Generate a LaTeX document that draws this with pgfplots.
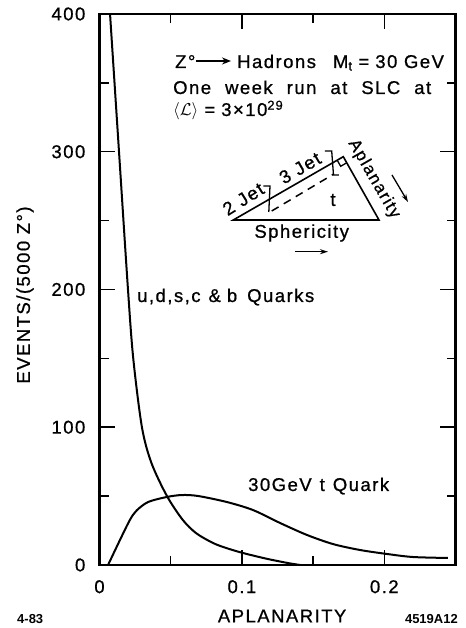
\documentclass[border=0pt]{standalone}
\usepackage{fontspec}
\setmainfont[LetterSpace=8, FakeBold=0.8]{Liberation Sans}
\newfontfamily\tagfont{Liberation Sans}
\usepackage{pgfplots}
\pgfplotsset{compat=1.18}
\usetikzlibrary{arrows.meta}

% event distributions versus aplanarity
\pgfplotstableread{
x       y
0.0074  400
0.0137  300
0.0200  200
0.0237  150
0.0298  100
0.0365  74
0.0474  50
0.0585  32.7
0.0680  23
0.0797  16
0.0885  12.5
0.1008  8.7
0.1180  4.4
0.1330  1.3
0.1410  0
}\lightq
\pgfplotstableread{
x       y
0.0060  0
0.0156  20.8
0.0215  33
0.0260  39.5
0.0341  45.7
0.0474  49.4
0.0580  50.8
0.0692  50.1
0.0895  45.7
0.1078  39.9
0.1268  30.5
0.1457  21.8
0.1640  15.2
0.1829  10.9
0.2019  8.0
0.2201  5.8
0.2447  5.1
}\topq

\newcommand\ws{\hspace{14bp}}

\begin{document}
\fontsize{18.5bp}{22bp}\selectfont
\begin{tikzpicture}
\path[use as bounding box] (-99.5bp,-63bp) rectangle (366.5bp,565bp);
\begin{axis}[
  at={(0,0)}, anchor=south west,
  width=356bp, height=551bp, scale only axis,
  xmin=0, xmax=0.25, ymin=0, ymax=400,
  axis line style={line width=2.4bp},
  xtick={0,0.1,0.2}, xticklabels={0,0.1,0.2},
  ytick={0,100,200,300,400},
  minor x tick num=1, minor y tick num=1,
  tick align=inside,
  major tick length=15bp, minor tick length=9bp,
  every tick/.style={black, line width=1.5bp},
  /pgf/number format/assume math mode=true,
  xticklabel style={inner sep=0pt, anchor=north, yshift=-15bp},
  yticklabel style={inner sep=0pt, anchor=east, xshift=-14bp},
  xlabel={APLANARITY},
  ylabel={EVENTS/(5000 Z°)},
  xlabel style={at={(axis description cs:0.513,-0.0926)}, anchor=center, inner sep=0pt},
  ylabel style={at={(axis description cs:-0.209,0.49)}, anchor=center, inner sep=0pt},
]
\addplot[black, line width=2bp, smooth, tension=0.5] table[x=x,y=y] {\lightq};
\addplot[black, line width=2bp, smooth, tension=0.5] table[x=x,y=y] {\topq};
\end{axis}

% annotations, placed in page units measured from the top left corner
\begin{scope}[x=1bp, y=-1bp, shift={(-99.5bp,565bp)}]
  \node[anchor=base west, inner sep=0] at (175,68) {Z°};
  \draw[line width=1.6bp, -{Stealth[length=9bp,width=7bp]}] (196,61) -- (231,61);
  \node[anchor=base west, inner sep=0] at (237,68) {Hadrons\hspace{17bp}M\textsubscript{t}\hspace{6bp}=\hspace{6bp}30 GeV};
  \node[anchor=base west, inner sep=0] at (173,94) {One\ws week\ws run\ws at\ws SLC\ws at};
  \node[anchor=base west, inner sep=0] at (173,116) {$\langle\mathcal{L}\rangle$\hspace{6bp}=\hspace{6bp}3×10\textsuperscript{29}};

  \node[anchor=base west, inner sep=0] at (137,302) {u,d,s,c\hspace{8bp}\&\hspace{6bp}b\hspace{10bp}Quarks};
  \node[anchor=base west, inner sep=0] at (248,491) {30GeV\hspace{8bp}t\hspace{8bp}Quark};

  % sphericity / aplanarity triangle
  \draw[line width=1.6bp] (233.3,220) -- (343.3,156.7) -- (379,220) -- cycle;
  \draw[line width=1.5bp, dash pattern=on 8bp off 6bp] (271.7,211) -- (333.3,174.3);
  \draw[line width=1.3bp] (263.5,186) -- (270,186) -- (268.8,212);
  \draw[line width=1.3bp] (325,151) -- (331.7,151) -- (333.5,175) -- (339,175);
  \draw[line width=1.3bp] (337.2,160.2) -- (340.7,166.3) -- (346.7,162.8);
  \node[rotate=32, inner sep=0] at (243.3,199) {2 Jet};
  \node[rotate=30, inner sep=0] at (300,168) {3 Jet};
  \node[inner sep=0] at (333,200) {t};
  \node[rotate=-60, inner sep=0, font=\fontsize{17bp}{20bp}\selectfont] at (374,179) {Aplanarity};
  \draw[line width=1.3bp, -{Stealth[length=8bp,width=5bp]}] (392,175) -- (408,202);
  \node[inner sep=0] at (301.7,233) {Sphericity};
  \draw[line width=1.3bp, -{Stealth[length=8bp,width=5bp]}] (295,251.7) -- (328,251.7);

  % figure codes
  \node[anchor=base west, inner sep=0, font=\tagfont\bfseries\fontsize{13bp}{15bp}\selectfont] at (17,624) {4-83};
  \node[anchor=base east, inner sep=0, font=\tagfont\bfseries\fontsize{13bp}{15bp}\selectfont] at (458,624) {4519A12};
\end{scope}
\end{tikzpicture}
\end{document}
